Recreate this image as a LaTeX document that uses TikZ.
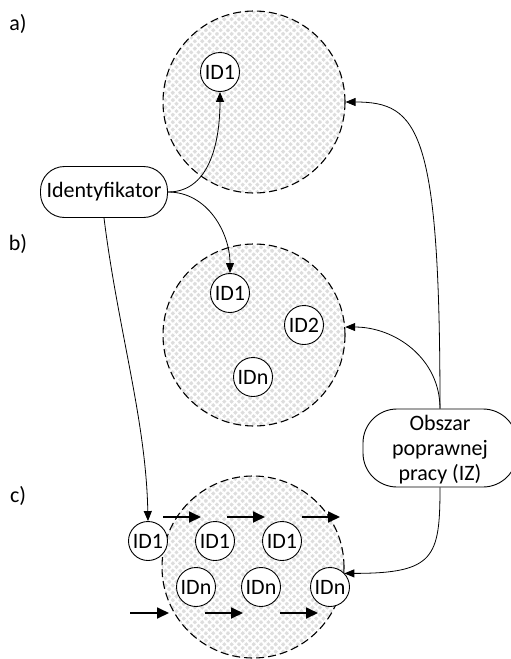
\documentclass[tikz,border=0pt]{standalone}
\usepackage{fontspec}
\setmainfont{Carlito}
\usetikzlibrary{arrows.meta,patterns.meta}

\tikzset{
  every node/.style={font=\fontsize{22}{25}\selectfont},
  zone/.style={circle, minimum size=182pt, inner sep=0pt,
    draw=black, line width=1.1pt, dash pattern=on 8pt off 4pt,
    preaction={fill=gray!27},
    preaction={pattern={Lines[angle=45,distance=5.2pt,line width=1.9pt]}, pattern color=white},
    preaction={pattern={Lines[angle=-45,distance=5.2pt,line width=1.9pt]}, pattern color=white}},
  idnode/.style={circle, draw=black, line width=0.9pt, fill=white,
    minimum size=39pt, inner sep=0pt},
  terminal/.style={rectangle, draw=black, line width=0.9pt, fill=white, inner sep=0pt},
  conn/.style={line width=0.8pt, -{Triangle[length=10pt,width=8pt]}},
  flow/.style={line width=1.8pt, -{Triangle[length=12pt,width=11pt]}},
  tag/.style={anchor=center}
}

\begin{document}
\begin{tikzpicture}[x=1pt,y=-1pt]
\useasboundingbox (0,0) rectangle (511,659);

% panel labels
\node[tag] (la) at (18,24) {a)};
\node[tag] (lb) at (18,244) {b)};
\node[tag] (lc) at (18,496) {c)};

% working zones
\node[zone] (ca) at (254,102) {};
\node[zone] (cb) at (254,335) {};
\node[zone] (cc) at (253,567) {};

% source boxes
\node[terminal, rounded corners=24pt, minimum width=127pt, minimum height=51pt] (ident) at (104,192) {Identyfikator};
\node[terminal, rounded corners=34pt, minimum width=154pt, minimum height=78pt, align=center, text depth=0pt]
  (obszar) at (440,448) {Obszar\\poprawnej\\pracy (IZ)};

% identifiers
\node[idnode] (a1) at (220,72) {ID1};

\node[idnode] (b1) at (230,293) {ID1};
\node[idnode] (b2) at (304,325) {ID2};
\node[idnode] (bn) at (253,377) {IDn};

\node[idnode] (c1) at (148,541) {ID1};
\node[idnode] (c2) at (215,541) {ID1};
\node[idnode] (c3) at (282,541) {ID1};
\node[idnode] (cn1) at (196,587) {IDn};
\node[idnode] (cn2) at (261,587) {IDn};
\node[idnode] (cn3) at (330,587) {IDn};

% movement arrows
\draw[flow] (163,517) -- (201,517);
\draw[flow] (227,517) -- (265,517);
\draw[flow] (302,517) -- (340,517);
\draw[flow] (130,613) -- (169,613);
\draw[flow] (205,613) -- (243,613);
\draw[flow] (280,613) -- (318,613);

% identifier links
\draw[conn] (ident.east) to[out=0,in=-90] (a1.south);
\draw[conn] (ident.east) to[out=0,in=90] (b1.north);
\draw[conn] (ident.south) .. controls (118,330) and (146,420) .. (c1.north);

% zone links
\draw[conn] (obszar.north) .. controls +(0,-279) and +(73,0) .. (ca.east);
\draw[conn] (obszar.north) .. controls +(0,-50) and +(50,0) .. (cb.5);
\draw[conn] (obszar.south) .. controls +(0,70) and +(90,0) .. (cc.-4);
\end{tikzpicture}
\end{document}
